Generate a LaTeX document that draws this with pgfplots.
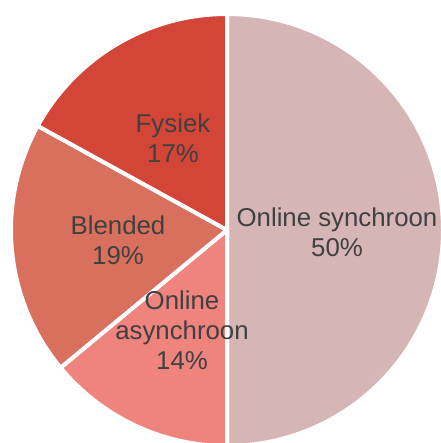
\documentclass[border=0pt]{standalone}
\usepackage{pgfplots}
\usepackage{pgfplotstable}
\pgfplotsset{compat=1.18}
\usepackage{fontspec}
\setmainfont{Liberation Sans}
\definecolor{pc0}{RGB}{214,182,181}
\definecolor{pc1}{RGB}{239,131,125}
\definecolor{pc2}{RGB}{217,112,94}
\definecolor{pc3}{RGB}{211,69,54}
\definecolor{txt}{RGB}{64,64,64}
\pgfplotstableread{
value
50
14
19
17
}\piedata
\begin{document}
\begin{tikzpicture}
\gdef\cum{90}
\pgfplotsforeachungrouped \i in {0,...,3}{%
  \pgfplotstablegetelem{\i}{value}\of\piedata
  \pgfmathsetmacro\endang{\cum-3.6*\pgfplotsretval}%
  \expandafter\xdef\csname sA\i\endcsname{\cum}%
  \expandafter\xdef\csname eA\i\endcsname{\endang}%
  \xdef\cum{\endang}%
}
\begin{axis}[
  scale only axis,
  width=441bp, height=443bp,
  xmin=-227, xmax=214,
  ymin=-213, ymax=230,
  hide axis,
  clip=true,
]
\pgfplotsinvokeforeach{0,...,3}{
  \filldraw[fill=pc#1, draw=white, line width=4bp, line join=round]
    (axis cs:0,0) -- ++(\csname sA#1\endcsname:216bp)
    arc[start angle=\csname sA#1\endcsname, end angle=\csname eA#1\endcsname, radius=216bp] -- cycle;
}
\begin{scope}[every node/.style={text=txt, align=center, font=\fontsize{25.8bp}{30bp}\selectfont}]
\node at (axis cs:110,-2) {Online synchroon\\50\%};
\node at (axis cs:-45,-100) {Online\\asynchroon\\14\%};
\node at (axis cs:-109,-10) {Blended\\19\%};
\node at (axis cs:-54,92) {Fysiek\\17\%};
\end{scope}
\coordinate (sw) at (rel axis cs:0,0);
\coordinate (ne) at (rel axis cs:1,1);
\end{axis}
\pgfresetboundingbox
\path (sw) rectangle (ne);
\end{tikzpicture}
\end{document}
